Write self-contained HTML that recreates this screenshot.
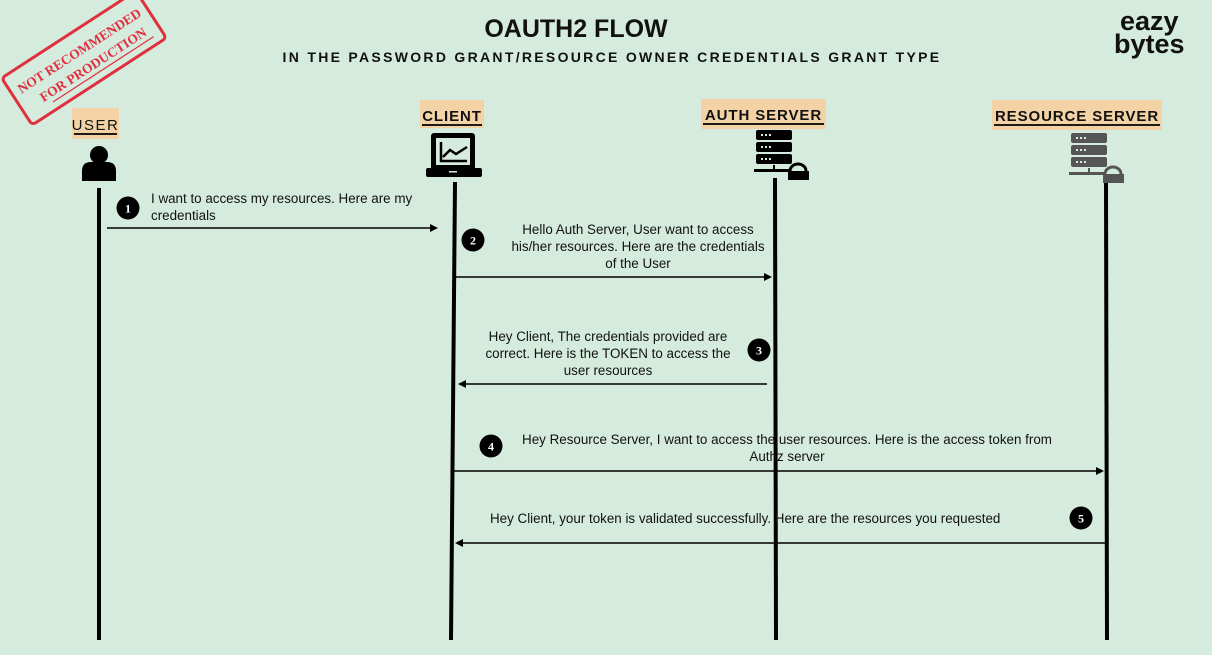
<!DOCTYPE html>
<html><head><meta charset="utf-8"><style>
html,body{margin:0;padding:0;background:#d5ebdd;}
svg{display:block;font-family:"Liberation Sans",sans-serif;}
</style></head><body>
<svg id="d" width="1212" height="655" viewBox="0 0 1212 655">
<rect width="1212" height="655" fill="#d5ebdd"/>
<text x="576" y="37" text-anchor="middle" font-size="25" font-weight="bold" fill="#111">OAUTH2 FLOW</text>
<text x="612" y="62" text-anchor="middle" font-size="14" font-weight="bold" letter-spacing="2.3" fill="#111">IN THE PASSWORD GRANT/RESOURCE OWNER CREDENTIALS GRANT TYPE</text>
<g font-weight="bold" font-size="27" fill="#111">
<text x="1120" y="30">eazy</text><text x="1114" y="53">bytes</text></g>
<g transform="translate(84,58) rotate(-33)" fill="none" stroke="#e0303f">
<rect x="-80" y="-28" width="160" height="56" rx="4" stroke-width="3"/>
<text x="0" y="-4" text-anchor="middle" font-family="Liberation Serif,serif" font-size="13.5" font-weight="bold" fill="#e0303f" stroke="none">NOT RECOMMENDED</text>
<text x="4" y="15" text-anchor="middle" font-family="Liberation Serif,serif" font-size="13.5" font-weight="bold" fill="#e0303f" stroke="none">FOR PRODUCTION</text>
<line x1="-50" y1="20" x2="70" y2="20" stroke-width="1.2"/></g>
<g id="actors"></g>
<g id="msgs"></g>
<g fill="#000">
<circle cx="99" cy="155" r="9"/><path d="M82 181 v-10 q0-9 9-9 h16 q9 0 9 9 v10z"/></g>
<g>
<rect x="431" y="133" width="44" height="37" rx="3" fill="#000"/>
<rect x="436" y="138" width="34" height="27" fill="#d5ebdd"/>
<polyline points="441,142 441,161 467,161" fill="none" stroke="#000" stroke-width="2.5"/>
<polyline points="443,157 450,150 456,154 467,147" fill="none" stroke="#000" stroke-width="2.5"/>
<rect x="426" y="168" width="56" height="9" rx="2" fill="#000"/><rect x="449" y="171" width="8" height="1.5" fill="#d5ebdd"/></g>
<g id="srv"></g>
</svg>
<script>
const actorNames=["USER","CLIENT","AUTH SERVER","RESOURCE SERVER"];
const stepNums=[1,2,3,4,5];
const NS="http://www.w3.org/2000/svg";
function mk(t,a,p){const e=document.createElementNS(NS,t);for(const k in a)e.setAttribute(k,a[k]);(p||document.getElementById('d')).appendChild(e);return e;}
const A=document.getElementById('actors');
const boxes=[[72,108,47,31,124],[420,100,64,28,115],[701,99,125,30,114],[992,100,170,30,115]];
const lines=[[99,188,99,640],[455,182,451,640],[775,178,776,640],[1106,182,1107,640]];
actorNames.forEach((n,i)=>{const b=boxes[i];
 const g=mk('g',{},A);
 
 
 mk('rect',{x:b[0],y:b[1],width:b[2],height:b[3],fill:'#f3d3a6'},g);
 const t=mk('text',{x:b[0]+b[2]/2,y:b[4]+6,'text-anchor':'middle','font-size':15,'font-weight':i?'bold':'normal','letter-spacing':i?0.9:1.5,fill:'#111'},g);t.textContent=n;
 mk('line',{x1:b[0]+2,x2:b[0]+b[2]-2,y1:b[4]+10,y2:b[4]+10,stroke:'#000','stroke-width':1.8},g);
 const l=mk('line',{x1:lines[i][0],y1:lines[i][1],x2:lines[i][2],y2:lines[i][3],stroke:'#000','stroke-width':4},A);
 
 
});
function server(x,y,c,name){const g=mk('g',{fill:c},document.getElementById('srv'));
 
 
 for(let k=0;k<3;k++){mk('rect',{x:x,y:y+k*12,width:36,height:10,rx:2},g);for(let d=0;d<3;d++)mk('rect',{x:x+5+d*4,y:y+k*12+4,width:2,height:2,fill:'#d5ebdd'},g);}
 mk('rect',{x:x-2,y:y+39,width:36,height:3},g);mk('rect',{x:x+17,y:y+35,width:2,height:6},g);
 mk('path',{d:`M${x+34} ${y+46} v-5 a8 7 0 0 1 16 0 v5 z`,fill:'none',stroke:c,'stroke-width':3},g);
 mk('rect',{x:x+32,y:y+41,width:21,height:9},g);}
server(756,130,'#000','auth-server-icon');server(1071,133,'#555','resource-server-icon');
const M=document.getElementById('msgs');
const arrowY=[228,277,384,471,543];
const arrowX1=[107,455,767,451,1106];
const arrowX2=[438,772,458,1104,455];
const circ=[[128,208],[473,240],[759,350],[491,446],[1081,518]];
const texts=[["I want to access my resources. Here are my","credentials"],["Hello Auth Server, User want to access","his/her resources. Here are the credentials","of the User"],["Hey Client, The credentials provided are","correct. Here is the TOKEN to access the","user resources"],["Hey Resource Server,  I want to access the user resources. Here is the access token from","Authz server"],["Hey Client, your token is validated successfully.   Here are the resources you requested"]];
const tpos=[[151,203,'start'],[638,234,'middle'],[608,341,'middle'],[787,444,'middle'],[490,523,'start']];
stepNums.forEach((s,i)=>{
 const x1=arrowX1[i],x2=arrowX2[i],y=arrowY[i],dir=x2>x1?1:-1;
 const ln=mk('line',{x1:x1,y1:y,x2:x2-dir*6,y2:y,stroke:'#000','stroke-width':1.5},M);
 
 
 mk('path',{d:`M${x2} ${y} L${x2-dir*8} ${y-4} L${x2-dir*8} ${y+4}z`,fill:'#000'},M);
 const c=mk('g',{},M);
 
 
 mk('circle',{cx:circ[i][0],cy:circ[i][1],r:11.5,fill:'#000'},c);
 const n=mk('text',{x:circ[i][0],y:circ[i][1]+4.5,'text-anchor':'middle','font-size':12,'font-weight':'bold','font-family':'Liberation Serif,serif',fill:'#fff'},c);n.textContent=s;
 const t=mk('text',{x:tpos[i][0],y:tpos[i][1],'text-anchor':tpos[i][2],'font-size':13.4,fill:'#111'},M);
 
 
 texts[i].forEach((tx,j)=>{const sp=mk('tspan',{x:tpos[i][0],dy:j?17:0},t);sp.textContent=tx;});
});
</script>
</body></html>
